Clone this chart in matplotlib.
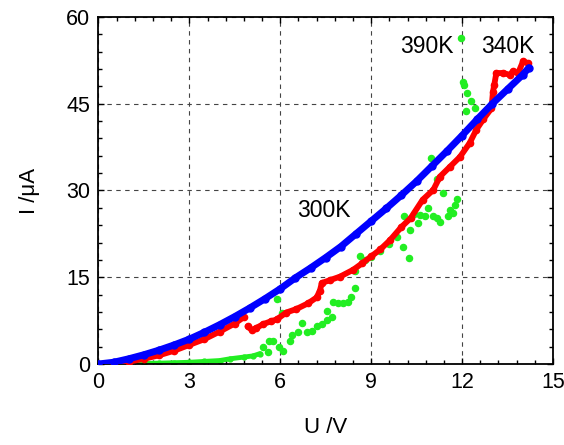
import matplotlib
matplotlib.use("Agg")
import matplotlib.pyplot as plt
from matplotlib.ticker import MultipleLocator

plt.rcParams["font.family"] = ["Liberation Sans", "DejaVu Sans"]

# 300K (blue) -- U in V, I in uA
blue_u = [0, 0.5, 1.0, 1.5, 2.0, 2.5, 3.0, 3.5, 4.0, 4.5, 5.0, 5.5, 6.0, 6.5, 7.0,
          7.5, 8.0, 8.5, 9.0, 9.5, 10.0, 10.5, 11.0, 11.5, 12.0, 12.5, 13.0, 13.5,
          14.0, 14.2]
blue_i = [0, 0.3, 0.9, 1.6, 2.4, 3.3, 4.3, 5.5, 6.8, 8.2, 9.7, 11.3, 13.0, 14.9,
          16.6, 18.4, 20.3, 22.5, 24.7, 26.9, 29.2, 31.6, 34.2, 36.8, 39.5, 42.3,
          45.0, 47.5, 50.0, 51.2]

# 340K (red), two pieces with a step down near 4.85 V
red_a_u = [0, 0.5, 1.0, 1.5, 2.0, 2.5, 3.0, 3.5, 4.0, 4.5, 4.8]
red_a_i = [0, 0.1, 0.4, 0.9, 1.5, 2.3, 3.3, 4.3, 5.6, 7.0, 8.1]
red_b_u = [4.92, 5.06, 5.2, 5.44, 5.7, 5.88, 6.2, 6.53, 6.92, 7.2, 7.31, 7.37,
           7.64, 7.97, 8.41, 8.7, 9.0, 9.3, 9.62, 10.0, 10.3, 10.7, 11.05, 11.27,
           11.6, 11.93, 12.25, 12.47, 12.7, 12.97, 13.02, 13.06, 13.13, 13.36,
           13.57, 13.68, 13.85, 14.01, 14.18]
red_b_i = [6.5, 5.9, 6.2, 6.9, 7.4, 7.7, 8.9, 9.5, 10.5, 11.5, 12.7, 14.0, 14.5,
           15.1, 16.3, 17.4, 18.6, 19.8, 21.4, 23.7, 25.2, 28.4, 30.1, 32.4, 34.1,
           35.8, 38.2, 40.5, 42.3, 44.2, 47.1, 48.2, 50.3, 50.3, 50.0, 50.6, 50.3,
           52.3, 52.0]

# 390K (green): smooth low part, then scattered points
green_base_u = [0, 0.5, 1.0, 1.5, 2.0, 2.5, 3.0, 3.5, 4.0, 4.34, 4.8, 5.1, 5.33]
green_base_i = [0, 0.02, 0.05, 0.1, 0.15, 0.22, 0.3, 0.45, 0.6, 0.9, 1.2, 1.4, 1.8]
green_u = [5.44, 5.6, 5.64, 5.77, 5.88, 5.97, 6.05, 6.08, 6.32, 6.38, 6.59, 6.71,
           6.87, 7.04, 7.2, 7.37, 7.53, 7.55, 7.7, 7.75, 7.9, 8.08, 8.24, 8.35,
           8.46, 8.46, 8.63, 8.8, 9.0, 9.3, 9.6, 9.85, 10.06, 10.08, 10.25, 10.28,
           10.4, 10.55, 10.6, 10.77, 10.88, 10.99, 11.05, 11.16, 11.16, 11.27,
           11.37, 11.54, 11.6, 11.71, 11.76, 11.82, 11.96, 12.03, 12.06, 12.12,
           12.17, 12.28, 12.42]
green_i = [2.9, 2.0, 3.9, 3.9, 11.2, 2.9, 8.8, 2.3, 3.9, 5.0, 5.6, 7.1,
           5.6, 5.7, 6.5, 7.0, 7.6, 9.2, 8.2, 10.8, 10.5, 10.5, 10.8, 11.6,
           13.1, 16.0, 18.7, 18.0, 18.5, 19.5, 20.8, 22.0, 20.3, 25.5, 18.3, 23.2,
           26.0, 24.3, 25.8, 25.5, 26.9, 35.6, 25.5, 31.9, 25.2, 24.6,
           29.5, 25.5, 26.6, 26.1, 27.5, 28.6, 56.3, 48.8, 48.3, 43.8,
           46.8, 45.4, 44.2]

labels = [("300K", 7.45, 26.5), ("390K", 10.85, 54.8), ("340K", 13.5, 54.8)]

fig = plt.figure(figsize=(5.64, 4.45), dpi=100)
ax = fig.add_axes([0.1745, 0.182, 0.806, 0.780])

GREEN = "#22ee22"
ax.plot(green_base_u, green_base_i, color=GREEN, lw=3.5, marker="o", ms=3.5,
        solid_capstyle="round", zorder=2)
ax.plot(green_u, green_i, ls="none", color=GREEN, marker="o", ms=4.4, zorder=2)
for u, i in [(red_a_u, red_a_i), (red_b_u, red_b_i)]:
    ax.plot(u, i, color="#ff0000", lw=4.2, marker="o", ms=4.5,
            solid_capstyle="round", solid_joinstyle="round", zorder=3)
ax.plot(blue_u, blue_i, color="#0000ff", lw=5, marker="o", ms=5,
        solid_capstyle="round", solid_joinstyle="round", zorder=4)

for txt, u, i in labels:
    ax.text(u, i, txt, fontsize=16.5, ha="center", va="center", zorder=5)

ax.set_xlim(0, 15)
ax.set_ylim(0, 60)
ax.xaxis.set_major_locator(MultipleLocator(3))
ax.xaxis.set_minor_locator(MultipleLocator(0.6))
ax.yaxis.set_major_locator(MultipleLocator(15))
ax.yaxis.set_minor_locator(MultipleLocator(3))
ax.tick_params(which="both", direction="in", top=True, right=True,
               labelsize=15.5, width=1)
ax.tick_params(which="major", length=4, pad=6)
ax.tick_params(which="minor", length=2.8)
ax.grid(True, which="major", ls=(0, (4, 4)), color="#444444", lw=0.8)
ax.set_axisbelow(True)
for s in ax.spines.values():
    s.set_linewidth(1.3)

ax.set_xlabel("U /V", fontsize=16, labelpad=17)
ax.set_ylabel("I /μA", fontsize=16, labelpad=19)

fig.savefig("out.png", dpi=100)
